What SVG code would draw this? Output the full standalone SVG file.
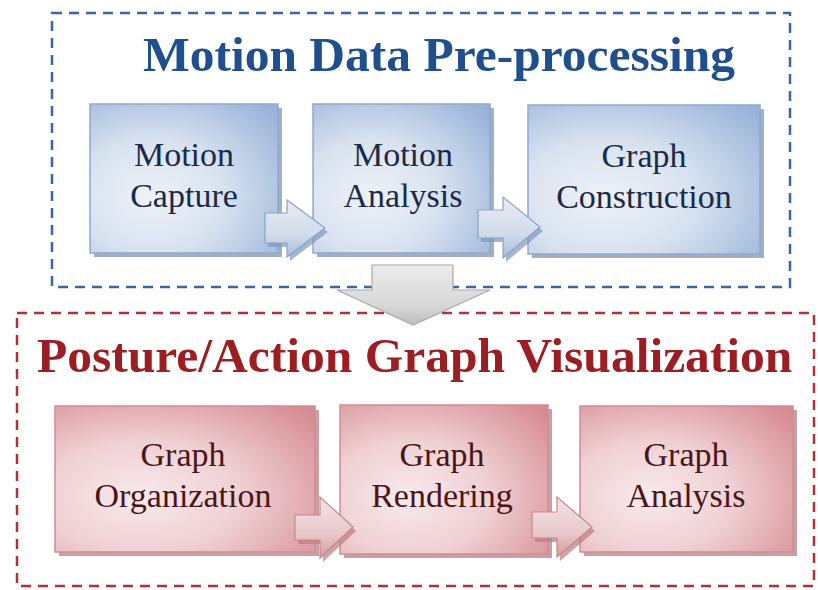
<svg xmlns="http://www.w3.org/2000/svg" width="818" height="590" viewBox="0 0 818 590">
  <defs>
    <radialGradient id="blueFill" cx="0.35" cy="0.62" r="0.85" fx="0.32" fy="0.62">
      <stop offset="0" stop-color="#eef2f8"/>
      <stop offset="0.45" stop-color="#d8e2f0"/>
      <stop offset="1" stop-color="#97b2d8"/>
    </radialGradient>
    <radialGradient id="redFill" cx="0.35" cy="0.62" r="0.85" fx="0.32" fy="0.62">
      <stop offset="0" stop-color="#f8eaec"/>
      <stop offset="0.45" stop-color="#efd0d3"/>
      <stop offset="1" stop-color="#d68b92"/>
    </radialGradient>
    <linearGradient id="blueArrow" x1="0" y1="0" x2="0" y2="1">
      <stop offset="0" stop-color="#e7ecf4"/>
      <stop offset="0.6" stop-color="#d2dcea"/>
      <stop offset="1" stop-color="#a9bdd9"/>
    </linearGradient>
    <linearGradient id="redArrow" x1="0" y1="0" x2="0" y2="1">
      <stop offset="0" stop-color="#f3e3e5"/>
      <stop offset="0.6" stop-color="#e8c9cc"/>
      <stop offset="1" stop-color="#d49ba0"/>
    </linearGradient>
    <linearGradient id="grayArrow" x1="0" y1="0" x2="0" y2="1">
      <stop offset="0" stop-color="#ececec"/>
      <stop offset="0.7" stop-color="#d6d6d6"/>
      <stop offset="1" stop-color="#bdbdbd"/>
    </linearGradient>
  </defs>
  <style>
    .frame { fill: none; stroke-width: 2.5; stroke-dasharray: 10 7; }
    .frame-blue { stroke: #3a66a3; }
    .frame-red { stroke: #b03238; }
    .title { font-family: "Liberation Serif", "Times New Roman", serif; font-weight: bold; font-size: 49.5px; }
    .title-blue { fill: #1f4f8c; }
    .title-red { fill: #9a1e22; }
    .label { font-family: "Liberation Serif", "Times New Roman", serif; font-size: 34px; text-anchor: middle; }
    .label-blue { fill: #1b2a48; }
    .label-red { fill: #4a1519; }
    .box-blue { fill: url(#blueFill); stroke: #8fa9cf; stroke-width: 1.5; }
    .box-red { fill: url(#redFill); stroke: #cf8d93; stroke-width: 1.5; }
    .shadow-blue { fill: #8393ad; opacity: 0.75; }
    .shadow-red { fill: #b58085; opacity: 0.75; }
    .arrow-blue { fill: url(#blueArrow); stroke: #8aa3c8; stroke-width: 1.2; }
    .arrow-red { fill: url(#redArrow); stroke: #c8868c; stroke-width: 1.2; }
    .arrow-shadow-blue { fill: #7f97bd; opacity: 0.7; }
    .arrow-shadow-red { fill: #b97c82; opacity: 0.7; }
    .arrow-big { fill: url(#grayArrow); stroke: #a8a8a8; stroke-width: 1.2; }
  </style>

  <rect width="818" height="590" fill="#ffffff"/>

  <!-- stage frames -->
  <g id="stage-preprocessing">
    <rect class="frame frame-blue" x="52" y="13" width="738" height="274"/>
    <text class="title title-blue" x="143" y="71">Motion Data Pre-processing</text>
  </g>
  <g id="stage-visualization">
    <rect class="frame frame-red" x="17" y="313" width="797" height="273"/>
    <text class="title title-red" x="37" y="372">Posture/Action Graph Visualization</text>
  </g>

  <!-- upper row -->
  <g id="motion-capture">
    <rect class="shadow-blue" x="94" y="108" width="188" height="149"/>
    <rect class="box-blue" x="90" y="104" width="188" height="149"/>
    <text class="label label-blue" x="184" y="166">Motion</text>
    <text class="label label-blue" x="184" y="207">Capture</text>
  </g>
  <g id="motion-analysis">
    <rect class="shadow-blue" x="317" y="108" width="177" height="149"/>
    <rect class="box-blue" x="313" y="104" width="177" height="149"/>
    <text class="label label-blue" x="403" y="166">Motion</text>
    <text class="label label-blue" x="403" y="207">Analysis</text>
  </g>
  <g id="graph-construction">
    <rect class="shadow-blue" x="532" y="109" width="232" height="149"/>
    <rect class="box-blue" x="528" y="105" width="232" height="149"/>
    <text class="label label-blue" x="644" y="167">Graph</text>
    <text class="label label-blue" x="644" y="208">Construction</text>
  </g>

  <!-- lower row -->
  <g id="graph-organization">
    <rect class="shadow-red" x="59" y="410" width="260" height="146"/>
    <rect class="box-red" x="55" y="406" width="260" height="146"/>
    <text class="label label-red" x="183" y="466">Graph</text>
    <text class="label label-red" x="183" y="507">Organization</text>
  </g>
  <g id="graph-rendering">
    <rect class="shadow-red" x="344" y="409" width="208" height="149"/>
    <rect class="box-red" x="340" y="405" width="208" height="149"/>
    <text class="label label-red" x="442" y="466">Graph</text>
    <text class="label label-red" x="442" y="507">Rendering</text>
  </g>
  <g id="graph-analysis">
    <rect class="shadow-red" x="584" y="410" width="213" height="146"/>
    <rect class="box-red" x="580" y="406" width="213" height="146"/>
    <text class="label label-red" x="686" y="466">Graph</text>
    <text class="label label-red" x="686" y="507">Analysis</text>
  </g>

  <!-- connectors -->
  <g id="connectors">
    <!-- capture to analysis -->
    <polygon class="arrow-shadow-blue" points="268,217 290,217 290,204 328,232 290,261 290,247 268,247"/>
    <polygon class="arrow-blue" points="265,213 287,213 287,200 325,228 287,257 287,243 265,243"/>
    <!-- analysis to construction -->
    <polygon class="arrow-shadow-blue" points="481,214 506,214 506,201 543,231 506,262 506,242 481,242"/>
    <polygon class="arrow-blue" points="478,210 503,210 503,197 540,227 503,258 503,238 478,238"/>
    <!-- organization to rendering -->
    <polygon class="arrow-shadow-red" points="298,519 323,519 323,501 356,531 323,562 323,544 298,544"/>
    <polygon class="arrow-red" points="295,515 320,515 320,497 353,527 320,558 320,540 295,540"/>
    <!-- rendering to analysis -->
    <polygon class="arrow-shadow-red" points="535,516 560,516 560,501 595,531 560,561 560,542 535,542"/>
    <polygon class="arrow-red" points="532,512 557,512 557,497 592,527 557,557 557,538 532,538"/>
    <!-- pre-processing to visualization -->
    <polygon class="arrow-big" points="372,265 453,265 453,290 490,290 413,325 337,290 372,290"/>
  </g>
</svg>
